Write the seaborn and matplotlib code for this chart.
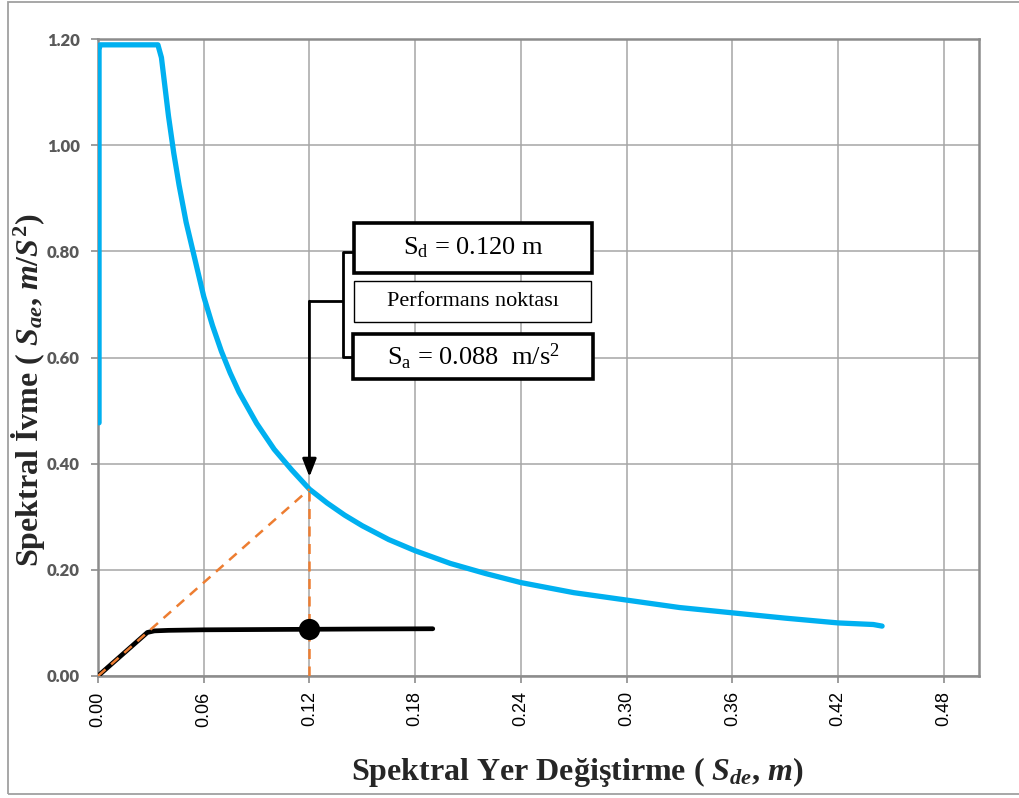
import numpy as np
import matplotlib
matplotlib.use("Agg")
import matplotlib.pyplot as plt
from matplotlib.patches import Rectangle
import seaborn as sns

# Demand spectrum (ADRS format): spectral displacement [m] vs spectral acceleration
demand_sd = [0.0006, 0.0006, 0.0012, 0.034, 0.036, 0.038, 0.040, 0.043, 0.046,
             0.050, 0.055, 0.060, 0.065, 0.070, 0.075, 0.080, 0.090, 0.100,
             0.110, 0.120, 0.130, 0.140, 0.150, 0.165, 0.180, 0.200, 0.220,
             0.240, 0.270, 0.300, 0.330, 0.360, 0.390, 0.420, 0.440, 0.445]
demand_sa = [0.477, 1.180, 1.189, 1.189, 1.165, 1.110, 1.055, 0.985, 0.925,
             0.855, 0.785, 0.715, 0.660, 0.612, 0.571, 0.535, 0.476, 0.427,
             0.388, 0.352, 0.326, 0.303, 0.283, 0.257, 0.236, 0.212, 0.193,
             0.176, 0.157, 0.143, 0.129, 0.119, 0.109, 0.100, 0.097, 0.094]

# Capacity curve
capacity_sd = [0.0, 0.028, 0.032, 0.040, 0.060, 0.090, 0.120, 0.150, 0.190]
capacity_sa = [0.0, 0.082, 0.085, 0.086, 0.087, 0.0875, 0.088, 0.0885, 0.089]

# Performance point
perf_sd = 0.120
perf_sa = 0.088
perf_sa_elastic = 0.352   # elastic demand at the performance displacement

x_ticks = [0.00, 0.06, 0.12, 0.18, 0.24, 0.30, 0.36, 0.42, 0.48]
y_ticks = [0.00, 0.20, 0.40, 0.60, 0.80, 1.00, 1.20]

sns.set_theme(style="white")
plt.rcParams["mathtext.fontset"] = "custom"
plt.rcParams["mathtext.rm"] = "Liberation Serif"
plt.rcParams["mathtext.it"] = "Liberation Serif:italic:bold"
plt.rcParams["mathtext.bf"] = "Liberation Serif:bold"

W, H = 1019, 798
fig = plt.figure(figsize=(W / 100, H / 100), dpi=100)
fig.patch.set_facecolor("white")

def fx(px):
    return px / W

def fy(py):
    return 1 - py / H

ax = fig.add_axes([fx(98), fy(676), fx(979) - fx(98), fy(39) - fy(676)])
ax.set_facecolor("white")

grid_c = "#a6a6a6"
spine_c = "#8c8c8c"
orange = "#ed7d31"

# Demand spectrum
sns.lineplot(x=demand_sd, y=demand_sa, ax=ax, color="#00b0f0", lw=3.8,
             sort=False, estimator=None, zorder=4)

# Capacity curve
sns.lineplot(x=capacity_sd, y=capacity_sa, ax=ax, color="black", lw=3.4,
             sort=False, estimator=None, zorder=5)

# Dashed construction lines (orange)
sns.lineplot(x=[0.0, perf_sd], y=[0.0, perf_sa_elastic], ax=ax, color=orange,
             lw=1.8, linestyle=(0, (4, 3)), sort=False, estimator=None,
             zorder=5.5)
sns.lineplot(x=[perf_sd, perf_sd], y=[0.0, perf_sa_elastic], ax=ax, color=orange,
             lw=1.8, linestyle=(0, (4, 3)), sort=False, estimator=None,
             zorder=3)

# Performance point
sns.scatterplot(x=[perf_sd], y=[perf_sa], ax=ax, color="black", s=200,
                edgecolor="black", zorder=6)

ax.set_xlim(0, 0.50)
ax.set_ylim(0, 1.20)
ax.set_xticks(x_ticks)
ax.set_yticks(y_ticks)
ax.set_xticklabels([f"{v:.2f}" for v in x_ticks], rotation=90,
                   family="Liberation Sans", fontsize=13, color="black")
ax.set_yticklabels([f"{v:.2f}" for v in y_ticks], family="Lato",
                   fontweight="heavy", fontsize=12, color="#595959")
ax.tick_params(axis="x", length=5, width=1.2, color=spine_c, pad=6,
               bottom=True, direction="out")
ax.tick_params(axis="y", length=5, width=1.2, color=spine_c, pad=8,
               left=True, direction="out")
ax.grid(True, color=grid_c, lw=1.1)
ax.set_axisbelow(True)
for s in ax.spines.values():
    s.set_visible(True)
    s.set_color(spine_c)
    s.set_linewidth(1.8)

ax.set_xlabel("Spektral Yer Değiştirme ( $S_{de}$, $m$)",
              family="Liberation Serif", fontweight="bold", fontsize=23,
              va="center")
ax.set_ylabel("Spektral İvme ( $S_{ae}$, $m\\mathbf{/}S^{\\mathbf{2}}$)",
              family="Liberation Serif", fontweight="bold", fontsize=23,
              va="center")
ax.xaxis.set_label_coords(0.544, -0.151)
ax.yaxis.set_label_coords(-0.080, 0.449)

# Leader line with arrow pointing to the demand curve at the performance point
tip_sa = 0.375
elbow_sa = 0.706
brace_sd = 0.139
box_sd = 0.1456
brace_top, brace_bot = 0.799, 0.601
ax.annotate("", xy=(perf_sd, tip_sa), xytext=(perf_sd, elbow_sa),
            arrowprops=dict(arrowstyle="-|>,head_length=0.9,head_width=0.35",
                            color="black", lw=2, shrinkA=0, shrinkB=0),
            zorder=7)
ax.plot([perf_sd, brace_sd], [elbow_sa, elbow_sa], color="black", lw=2,
        solid_capstyle="butt", zorder=7)
ax.plot([box_sd, brace_sd, brace_sd, box_sd],
        [brace_top, brace_top, brace_bot, brace_bot],
        color="black", lw=2, solid_joinstyle="round", zorder=7)

# Labelled boxes
boxes = [
    ((354, 223, 592, 273), 2.6, "S$_\\mathrm{d}$ = 0.120 m", 19),
    ((354, 281, 591, 322), 1.0, "Performans noktası", 16),
    ((353, 334, 593, 379), 2.6, "S$_\\mathrm{a}$ = 0.088  m/s$^\\mathrm{2}$", 19),
]
for (x0, y0, x1, y1), lw, txt, fs in boxes:
    fig.patches.append(Rectangle((fx(x0), fy(y1)), fx(x1) - fx(x0),
                                 fy(y0) - fy(y1), transform=fig.transFigure,
                                 facecolor="white", edgecolor="black", lw=lw,
                                 zorder=8))
    fig.text(fx((x0 + x1) / 2), fy((y0 + y1) / 2), txt, ha="center",
             va="center", family="Liberation Serif", fontsize=fs,
             color="black", zorder=9)

# Outer chart frame
fig.patches.append(Rectangle((fx(8), fy(794)), 1.05, fy(2) - fy(794),
                             transform=fig.transFigure, fill=False,
                             edgecolor="#a0a0a0", lw=1.3, zorder=0))

fig.savefig("out.png", dpi=100, facecolor="white")
